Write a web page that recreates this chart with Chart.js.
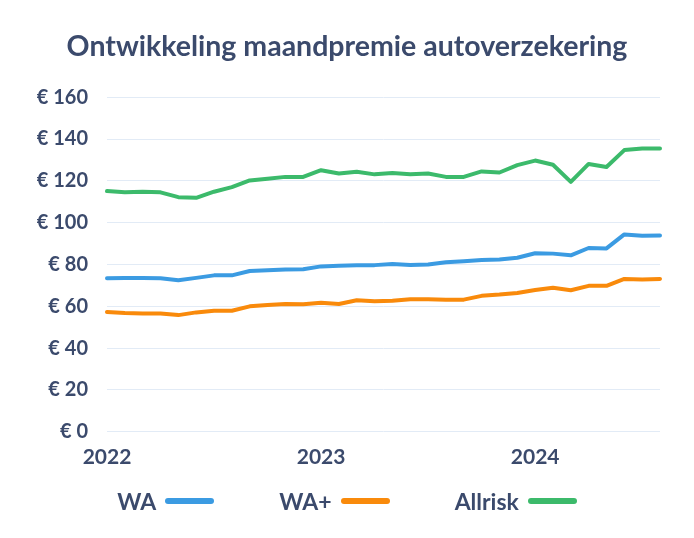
<!DOCTYPE html>
<html>
<head>
<meta charset="utf-8">
<script src="https://cdn.jsdelivr.net/npm/chart.js@4"></script>
<style>
  body { margin: 0; background: #fff; }
  #wrap { position: relative; width: 694px; height: 538px; }
  #legend {
    position: absolute; left: 0; right: 0; top: 488px; height: 26px;
    display: flex; justify-content: center; align-items: center; gap: 65px;
    font: bold 23px Lato, sans-serif; color: #3b4a6c;
  }
  #legend .item { display: flex; align-items: center; gap: 9px; }
  #legend .bar { display: inline-block; width: 49px; height: 6px; border-radius: 3px; }
</style>
</head>
<body>
<div id="wrap">
  <canvas id="premie"></canvas>
  <div id="legend"></div>
</div>
<script>
const months = [
  '2022-01','2022-02','2022-03','2022-04','2022-05','2022-06','2022-07','2022-08','2022-09','2022-10','2022-11','2022-12',
  '2023-01','2023-02','2023-03','2023-04','2023-05','2023-06','2023-07','2023-08','2023-09','2023-10','2023-11','2023-12',
  '2024-01','2024-02','2024-03','2024-04','2024-05','2024-06','2024-07','2024-08'
];
const wa = [73.4, 73.5, 73.5, 73.4, 72.5, 73.6, 74.8, 74.8, 76.9, 77.3, 77.6, 77.7,
  79.1, 79.4, 79.7, 79.7, 80.2, 79.8, 80.0, 81.1, 81.6, 82.1, 82.4, 83.2,
  85.4, 85.2, 84.4, 87.9, 87.7, 94.4, 93.7, 93.9];
const waPlus = [57.3, 56.8, 56.6, 56.6, 55.8, 57.1, 57.9, 57.9, 60.0, 60.6, 61.1, 61.0,
  61.7, 61.1, 62.9, 62.4, 62.7, 63.4, 63.4, 63.2, 63.2, 65.0, 65.6, 66.4,
  67.8, 68.9, 67.7, 69.8, 69.8, 73.1, 72.8, 73.1];
const allrisk = [115.1, 114.5, 114.8, 114.5, 112.2, 111.9, 114.8, 117.0, 120.2, 121.0, 121.9, 121.9,
  125.1, 123.5, 124.4, 123.1, 123.7, 123.2, 123.5, 121.9, 121.9, 124.5, 124.0, 127.5,
  129.7, 127.7, 119.5, 128.1, 126.6, 134.7, 135.5, 135.5];
const yTicks = [0, 20, 40, 60, 80, 100, 120, 140, 160];

const textColor = '#3b4a6c';

function line(label, data, color) {
  return {
    label: label,
    data: data,
    borderColor: color,
    backgroundColor: color,
    borderWidth: 4,
    borderCapStyle: 'round',
    borderJoinStyle: 'round',
    pointRadius: 0,
    tension: 0
  };
}

const chart = new Chart(document.getElementById('premie'), {
  type: 'line',
  data: {
    labels: months,
    datasets: [
      line('WA', wa, '#3b9be2'),
      line('WA+', waPlus, '#f98a0b'),
      line('Allrisk', allrisk, '#3cba6b')
    ]
  },
  options: {
    responsive: true,
    maintainAspectRatio: false,
    animation: false,
    layout: { padding: { left: 34, right: 34, bottom: 55 } },
    plugins: {
      title: {
        display: true,
        text: 'Ontwikkeling maandpremie autoverzekering',
        color: textColor,
        font: { family: 'Lato', weight: 'bold', size: 28.5 },
        padding: { top: 30, bottom: 33 }
      },
      legend: { display: false },
      tooltip: { enabled: false }
    },
    scales: {
      x: {
        grid: { display: false, drawTicks: false },
        border: { display: false },
        ticks: {
          color: textColor,
          font: { family: 'Lato', weight: 'bold', size: 21 },
          autoSkip: false,
          maxRotation: 0,
          padding: 13,
          callback: function (v, i) {
            const m = months[i];
            return m.endsWith('-01') ? m.slice(0, 4) : '';
          }
        }
      },
      y: {
        min: 0,
        max: 160,
        afterBuildTicks: s => { s.ticks = yTicks.map(v => ({ value: v })); },
        afterFit: s => { s.width = 73; },
        grid: { color: '#e2ebf6', lineWidth: 1, drawTicks: false },
        border: { display: false },
        ticks: {
          color: textColor,
          font: { family: 'Lato', weight: 'bold', size: 20 },
          padding: 19,
          callback: v => '€ ' + v
        }
      }
    }
  }
});

// legend: label first, then a short bar in the series colour
const legend = document.getElementById('legend');
chart.data.datasets.forEach(ds => {
  const item = document.createElement('span');
  item.className = 'item';
  const txt = document.createElement('span');
  txt.textContent = ds.label;
  const bar = document.createElement('span');
  bar.className = 'bar';
  bar.style.background = ds.borderColor;
  item.append(txt, bar);
  legend.append(item);
});
</script>
</body>
</html>
